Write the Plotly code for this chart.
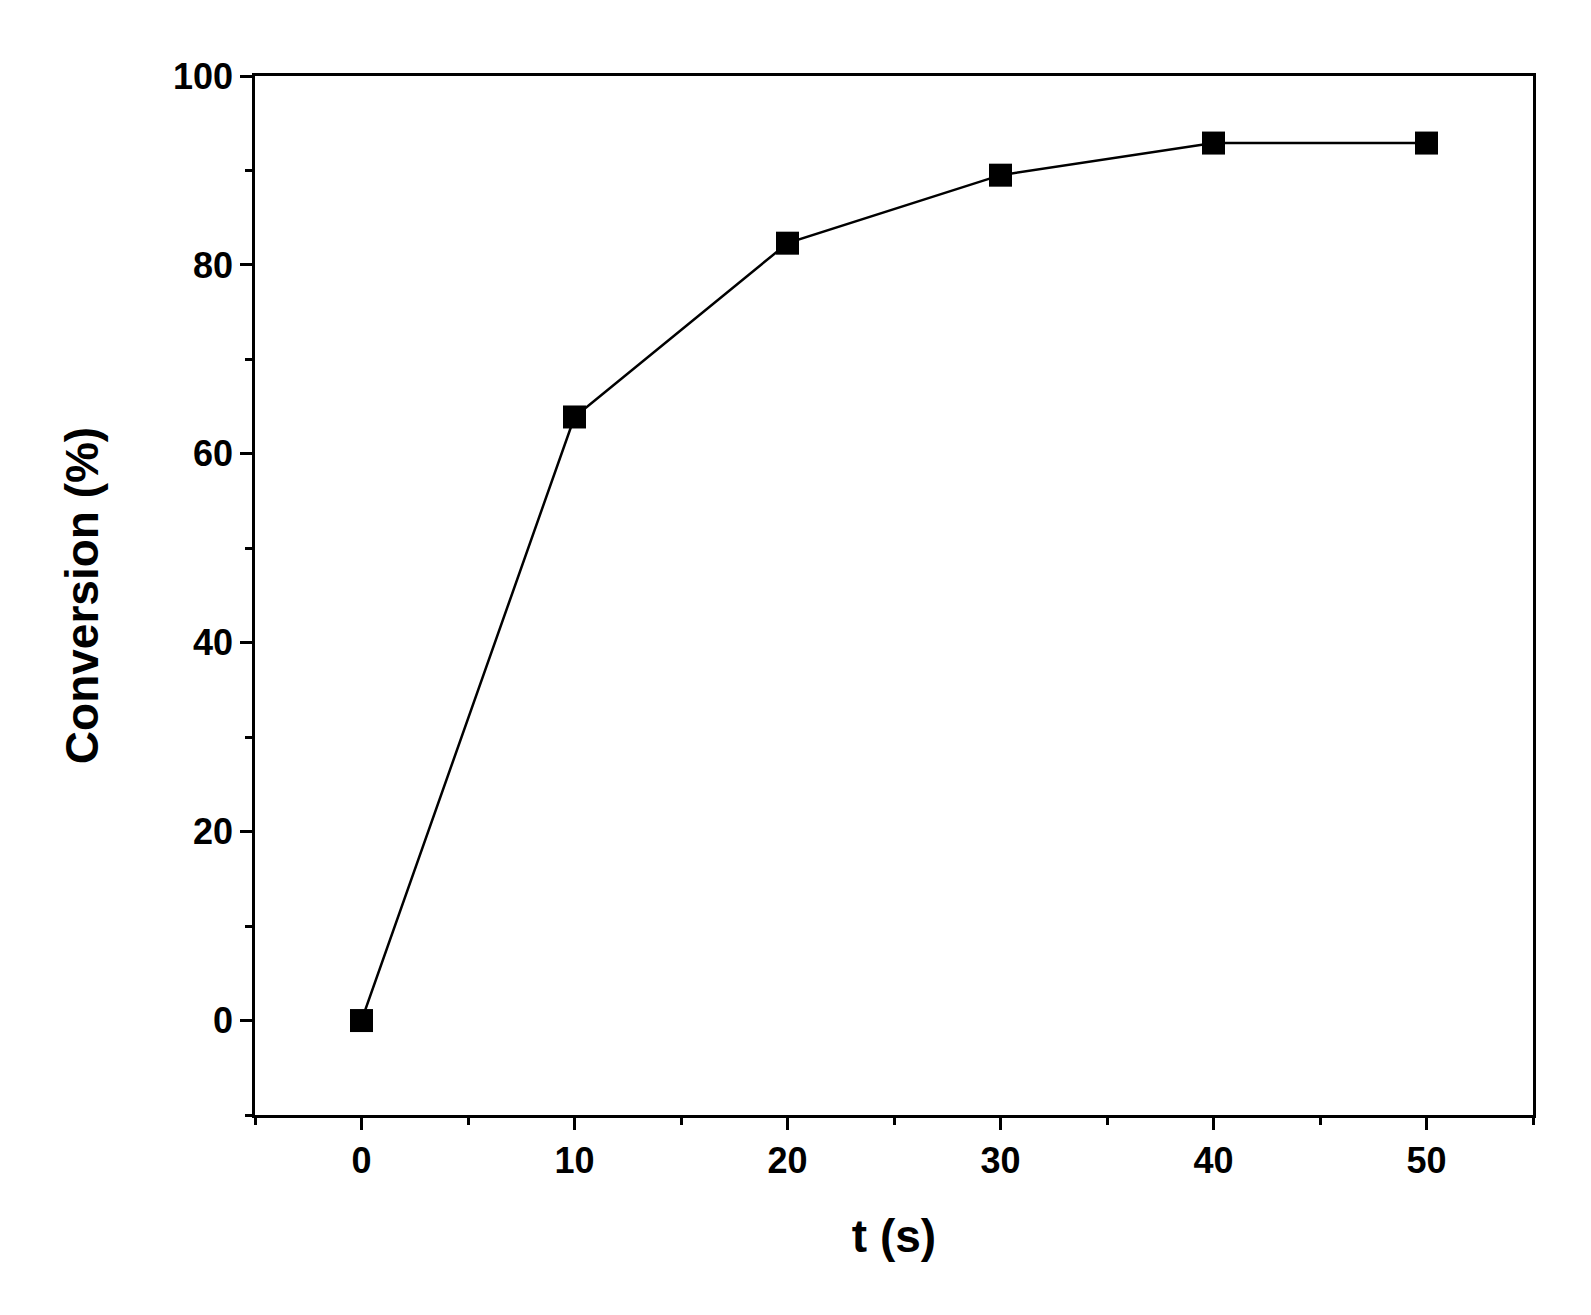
import plotly.graph_objects as go

t_s = [0, 10, 20, 30, 40, 50]
conversion = [0, 63.9, 82.3, 89.5, 92.9, 92.9]

fig = go.Figure()
fig.add_trace(go.Scatter(
    x=t_s, y=conversion, mode='lines+markers',
    line=dict(color='black', width=2.5),
    marker=dict(symbol='square', size=23, color='black'),
    showlegend=False))

axis_common = dict(showline=True, linecolor='black', linewidth=2.5, mirror=True,
                   ticks='outside', ticklen=12, tickwidth=2.5, tickcolor='black',
                   showgrid=False, zeroline=False,
                   tickfont=dict(family='Liberation Sans', size=36, color='black', weight='bold'))

fig.update_xaxes(range=[-5, 55], tickvals=t_s,
                 minor=dict(dtick=5, ticks='outside', ticklen=7, tickwidth=2.5, tickcolor='black', tick0=5),
                 title=dict(text='t (s)', font=dict(family='Liberation Sans', size=46, color='black', weight='bold'), standoff=40),
                 **axis_common)
fig.update_yaxes(range=[-10, 100], tickvals=[0, 20, 40, 60, 80, 100],
                 minor=dict(dtick=10, ticks='outside', ticklen=7, tickwidth=2.5, tickcolor='black', tick0=0),
                 title=dict(text='Conversion (%)', font=dict(family='Liberation Sans', size=46, color='black', weight='bold'), standoff=60),
                 **axis_common)

fig.update_layout(width=1591, height=1315, plot_bgcolor='white', paper_bgcolor='white',
                  margin=dict(l=247, r=66, t=68, b=208))
fig.write_html("out.html")
